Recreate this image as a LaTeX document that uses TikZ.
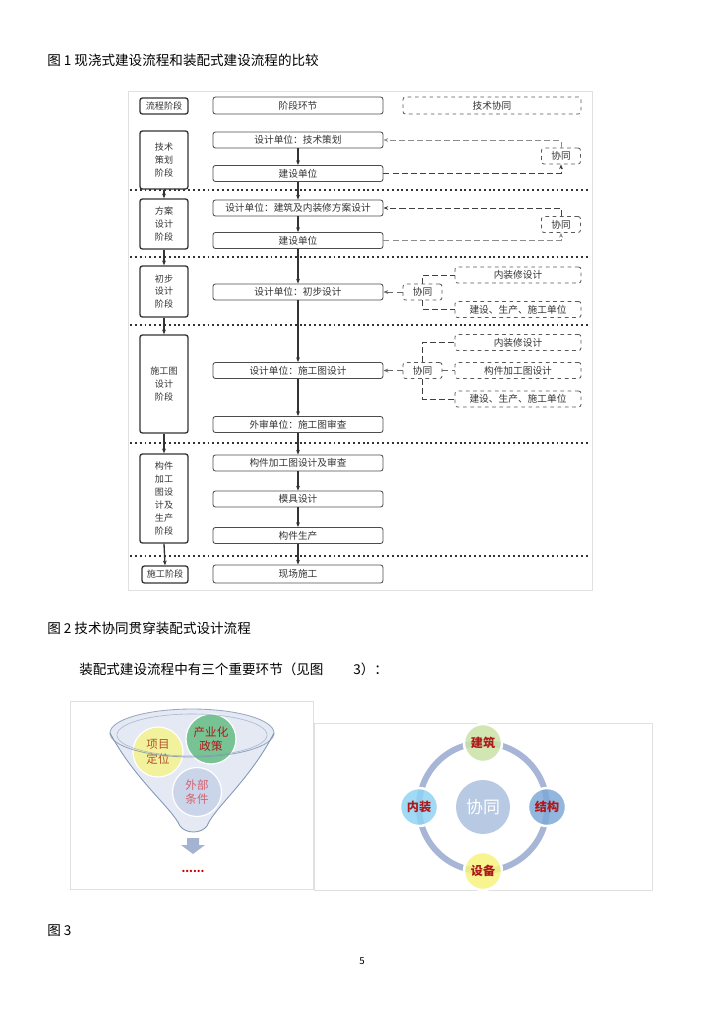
\documentclass[tikz,border=0pt]{standalone}
\usepackage{fontspec}
\setmainfont{Noto Sans CJK SC}
\usetikzlibrary{arrows.meta, positioning}
\newlength\pxu
\setlength\pxu{0.029cm}
\definecolor{FunFill}{HTML}{E4E9F3}
\definecolor{FunLine}{HTML}{8196B6}
\definecolor{PosFill}{HTML}{F2F29C}
\definecolor{IndFill}{HTML}{78C394}
\definecolor{ExtFill}{HTML}{CBD5E9}
\definecolor{PosText}{HTML}{B5502A}
\definecolor{ExtText}{HTML}{D4606E}
\definecolor{DownFill}{HTML}{A3B3D1}
\definecolor{RingBlue}{HTML}{A7B6D6}
\definecolor{MidFill}{HTML}{B8C9E3}
\definecolor{ArchFill}{HTML}{C9E2A6}
\definecolor{StruFill}{HTML}{7FA9D8}
\definecolor{EquiFill}{HTML}{F7F37E}
\definecolor{InteFill}{HTML}{8FD3F2}
\definecolor{LabRed}{HTML}{B01818}

\begin{document}
\begin{tikzpicture}[x=\pxu, y=-\pxu, >={Stealth[length=4pt,width=3.2pt]},
    font=\fontsize{8}{10}\selectfont,
    caption/.style={anchor=west, font=\fontsize{11.2}{13}\selectfont},
    stage/.style={draw=black!80, line width=1.1pt, rounded corners=2pt,
                  minimum width=48\pxu, inner sep=0pt, align=center,
                  font=\fontsize{7.5}{10.6}\selectfont, text=black!80},
    link/.style={draw=black!70, line width=0.7pt, rounded corners=2pt,
                 minimum width=170\pxu, minimum height=16\pxu, inner sep=0pt,
                 text=black!80},
    coop/.style={draw=black!65, line width=0.7pt, dashed, rounded corners=2pt,
                 minimum height=16\pxu, inner sep=0pt, text=black!80},
    sep/.style={line width=1.6pt, black!80, dash pattern=on 1.6pt off 2.4pt},
    flow/.style={->, line width=1.1pt, black!80},
    tie/.style={line width=0.8pt, dash pattern=on 5pt off 2.5pt},
    ball/.style={circle, inner sep=0pt, align=center, draw=white, line width=1pt,
                 font=\fontsize{9.5}{12}\selectfont},
    ringnode/.style={circle, minimum size=38\pxu, inner sep=0pt, draw=white,
                     line width=2pt, fill opacity=0.85, text opacity=1,
                     text=LabRed, font=\fontsize{10}{12}\selectfont\bfseries}]

  \useasboundingbox (0,0) rectangle (724,1024);

  \node[caption] (cap1) at (43,60) {图 1 现浇式建设流程和装配式建设流程的比较};
  \node[caption] (cap2) at (43,628) {图 2 技术协同贯穿装配式设计流程};
  \node[caption] (line3) at (75,669) {装配式建设流程中有三个重要环节（见图\hspace{2.2em}3）：};
  \node[caption] (cap3) at (43,931) {图 3};
  \node[font=\fontsize{8}{10}\selectfont] (page) at (362,961) {5};

  \draw[black!12] (128,91) rectangle (592,590);

  \node[stage, minimum height=16\pxu] (hd1) at (164,106) {流程阶段};
  \node[link, minimum height=17\pxu] (hd2) at (298,105.5) {阶段环节};
  \node[coop, minimum width=178\pxu, minimum height=17\pxu] (hd3) at (492,105.5) {技术协同};

  \node[stage, minimum height=58\pxu] (s1) at (164,160) {技术\\策划\\阶段};
  \node[stage, minimum height=50\pxu] (s2) at (164,224) {方案\\设计\\阶段};
  \node[stage, minimum height=51\pxu] (s3) at (164,291.5) {初步\\设计\\阶段};
  \node[stage, minimum height=98\pxu] (s4) at (164,384) {施工图\\设计\\阶段};
  \node[stage, minimum height=89\pxu] (s5) at (164,498.5) {构件\\加工\\图设\\计及\\生产\\阶段};
  \node[stage, minimum height=17\pxu, minimum width=46\pxu] (s6) at (165,574.5) {施工阶段};

  \node[link] (dA) at (298,140) {设计单位：技术策划};
  \node[link] (jA) at (298,173.5) {建设单位};
  \node[link] (dB) at (298,208) {设计单位：建筑及内装修方案设计};
  \node[link] (jB) at (298,240.5) {建设单位};
  \node[link] (dC) at (298,292) {设计单位：初步设计};
  \node[link] (dD) at (298,370.5) {设计单位：施工图设计};
  \node[link] (wD) at (298,424.5) {外审单位：施工图审查};
  \node[link] (gE) at (298,463) {构件加工图设计及审查};
  \node[link] (mE) at (298,499) {模具设计};
  \node[link] (sE) at (298,535.5) {构件生产};
  \node[link, minimum height=18\pxu] (xF) at (298,574) {现场施工};

  \foreach \yy in {190,257,325,443,556}
    \draw[sep] (130,\yy) -- (590,\yy);

  \foreach \a/\b in {s1/s2, s2/s3, s3/s4, s4/s5, s5/s6}
    \draw[flow] (\a.south) -- (\b.north);
  \foreach \a/\b in {dA/jA, jA/dB, dB/jB, jB/dC, dC/dD, dD/wD, wD/gE, gE/mE, mE/sE, sE/xF}
    \draw[flow] (\a.south) -- (\b.north);

  \node[coop, minimum width=39\pxu] (xt1) at (561,156) {协同};
  \node[coop, minimum width=39\pxu] (xt2) at (561,224.5) {协同};
  \draw[tie, black!45, ->] (xt1.north) |- (dA.east);
  \draw[tie, black!75, ->] (jA.east) -| (xt1.south);
  \draw[tie, black!75, ->] (xt2.north) |- (dB.east);
  \draw[tie, black!45, ->] (jB.east) -| (xt2.south);

  \node[coop, minimum width=39\pxu] (xt3) at (422.5,292) {协同};
  \node[coop, minimum width=126\pxu] (nz3) at (518,275) {内装修设计};
  \node[coop, minimum width=126\pxu] (js3) at (518,309.5) {建设、生产、施工单位};
  \draw[tie, black!60, ->] (xt3.west) -- (dC.east);
  \draw[tie, black!75] (xt3.north) |- (nz3.west);
  \draw[tie, black!75] (xt3.south) |- (js3.west);

  \node[coop, minimum width=39\pxu] (xt4) at (422.5,370.5) {协同};
  \node[coop, minimum width=126\pxu] (nz4) at (518,342.5) {内装修设计};
  \node[coop, minimum width=126\pxu] (gj4) at (518,370.5) {构件加工图设计};
  \node[coop, minimum width=126\pxu] (js4) at (518,399) {建设、生产、施工单位};
  \draw[tie, black!60, ->] (xt4.west) -- (dD.east);
  \draw[tie, black!75] (xt4.north) |- (nz4.west);
  \draw[tie, black!60] (xt4.east) -- (gj4.west);
  \draw[tie, black!75] (xt4.south) |- (js4.west);

  \draw[black!12] (70,701) rectangle (313,889);
  \fill[FunFill] (110,733) .. controls (135,780) and (172,808) .. (180,826)
    .. controls (186,834) and (201,834) .. (207,826)
    .. controls (214,808) and (250,780) .. (274,733) -- cycle;
  \fill[FunFill] (192,733) ellipse[x radius=82, y radius=24];
  \node[ball, fill=PosFill, minimum size=50\pxu, text=PosText] (pos) at (158,752) {项目\\定位};
  \node[ball, fill=IndFill, minimum size=50\pxu, text=LabRed,
        font=\fontsize{9.5}{11}\selectfont] (ind) at (211,739) {产业化\\政策};
  \node[ball, fill=ExtFill, minimum size=49\pxu, text=ExtText] (ext) at (197,792) {外部\\条件};
  \draw[FunLine, line width=0.7pt] (110,733) .. controls (135,780) and (172,808) .. (180,826)
    .. controls (186,834) and (201,834) .. (207,826)
    .. controls (214,808) and (250,780) .. (274,733);
  \draw[FunLine, line width=0.7pt, opacity=0.8] (192,733) ellipse[x radius=82, y radius=24];
  \draw[FunLine, line width=0.5pt, opacity=0.6] (192,735) ellipse[x radius=75, y radius=21];
  \fill[DownFill] (187,838) -- (199,838) -- (199,845) -- (205,845) -- (193,854)
    -- (181,845) -- (187,845) -- cycle;
  \node[text=red!80!black, font=\fontsize{9}{10}\selectfont\bfseries] (more) at (193,871) {......};

  \draw[black!12] (314,723) rectangle (652,890);
  \node[ball, draw=none, fill=MidFill, minimum size=54\pxu, text=white,
        font=\fontsize{14}{16}\selectfont] (xt0) at (483,807) {协同};
  \draw[RingBlue, line width=5pt] (xt0.center) circle[radius=64];
  \node[ringnode, fill=ArchFill] (jz) at (483,743) {建筑};
  \node[ringnode, fill=StruFill] (jg) at (547,807) {结构};
  \node[ringnode, fill=EquiFill] (sb) at (483,871) {设备};
  \node[ringnode, fill=InteFill] (nz) at (419,807) {内装};
\end{tikzpicture}
\end{document}
